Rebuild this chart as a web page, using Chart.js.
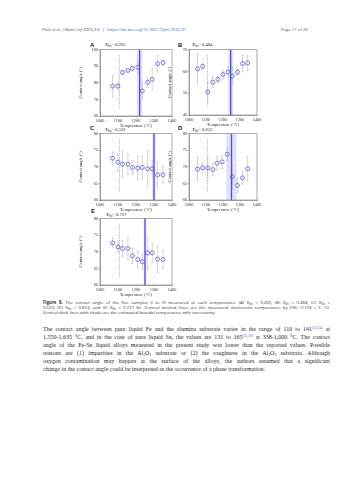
<!DOCTYPE html>
<html><head><meta charset="utf-8">
<script src="https://cdn.jsdelivr.net/npm/chart.js@4.4.1/dist/chart.umd.min.js"></script>
<style>
html,body{margin:0;padding:0;background:#fff;}
body{width:353px;height:480px;position:relative;overflow:hidden;}
.abs{position:absolute;white-space:nowrap;}
.hdr{font-family:'Open Sans','Liberation Sans',sans-serif;font-size:4.3px;line-height:6px;color:#555;}
.hdr a{color:#3a6fb5;text-decoration:none;}
.letter{font-family:'Liberation Sans',Arial,sans-serif;font-weight:bold;font-size:6px;line-height:7px;color:#222;}
.ptitle{font-family:'Liberation Serif',serif;font-size:4.6px;line-height:6px;color:#222;}
.ptitle sub{font-size:3.3px;vertical-align:-1px;line-height:0;}
canvas{position:absolute;}
.cap{font-family:'Open Sans','Liberation Sans',sans-serif;font-size:4.3px;line-height:5px;color:#333;width:287px;left:43px;}
.cap sub{font-size:3.2px;vertical-align:-0.8px;line-height:0;}
.bd{font-family:'Liberation Serif',serif;font-size:6px;line-height:7px;color:#2a2a2a;width:287px;left:43px;}
.bd sup{font-size:3.6px;vertical-align:2px;line-height:0;color:#3a6fb5;}
.bd sub{font-size:3.6px;vertical-align:-1px;line-height:0;}
.j{white-space:nowrap;text-align:justify;text-align-last:justify;}
</style>
</head>
<body>
<div class="abs hdr" style="left:42px;top:26px;"><i>Park et al. J Mater Inf</i> 2023;3:5&nbsp; | &nbsp;<a>https://dx.doi.org/10.20517/jmi.2022.37</a></div>
<div class="abs hdr" style="left:281px;top:26px;">Page 11 of 25</div>

<div class="abs letter" style="left:90px;top:42px;">A</div>
<div class="abs ptitle" style="left:105px;top:42px;"><i>X</i><sub>Sn</sub>= 0.265</div>
<div class="abs letter" style="left:178px;top:42px;">B</div>
<div class="abs ptitle" style="left:192px;top:42px;"><i>X</i><sub>Sn</sub>= 0.484</div>
<div class="abs letter" style="left:90px;top:125px;">C</div>
<div class="abs ptitle" style="left:105px;top:126.5px;"><i>X</i><sub>Sn</sub>= 0.523</div>
<div class="abs letter" style="left:178px;top:125px;">D</div>
<div class="abs ptitle" style="left:192px;top:126.5px;"><i>X</i><sub>Sn</sub>= 0.653</div>
<div class="abs letter" style="left:91px;top:208px;">E</div>
<div class="abs ptitle" style="left:106px;top:211.5px;"><i>X</i><sub>Sn</sub>= 0.727</div>

<canvas id="cA"></canvas>
<canvas id="cB"></canvas>
<canvas id="cC"></canvas>
<canvas id="cD"></canvas>
<canvas id="cE"></canvas>

<div class="abs cap j" style="top:300px;"><b>Figure 8.</b> The contact angle of the five samples (I to V) measured at each temperature: (A) X<sub>Sn</sub> = 0.265; (B) X<sub>Sn</sub> = 0.484; (C) X<sub>Sn</sub> =</div>
<div class="abs cap j" style="top:305px;">0.523; (D) X<sub>Sn</sub> = 0.653; and (E) X<sub>Sn</sub> = 0.727 Sn. Vertical dashed lines are the measured monotectic temperature by DSC (1109 ± 5 °C).</div>
<div class="abs cap" style="top:310px;">Vertical thick lines with shade are the estimated binodal temperature with uncertainty.</div>

<div class="abs bd j" style="top:325.5px;">The contact angle between pure liquid Fe and the alumina substrate varies in the range of 110 to 141<sup>[23,24]</sup> at</div>
<div class="abs bd j" style="top:333.5px;">1,550-1,635 °C, and in the case of pure liquid Sn, the values are 131 to 165<sup>[25,26]</sup> at 338-1,000 °C. The contact</div>
<div class="abs bd j" style="top:341.5px;">angle of the Fe-Sn liquid alloys measured in the present study was lower than the reported values. Possible</div>
<div class="abs bd j" style="top:349.5px;">reasons are (1) impurities in the Al<sub>2</sub>O<sub>3</sub> substrate or (2) the roughness in the Al<sub>2</sub>O<sub>3</sub> substrate. Although</div>
<div class="abs bd j" style="top:357.5px;">oxygen contamination may happen at the surface of the alloys, the authors assumed that a significant</div>
<div class="abs bd" style="top:365.5px;">change in the contact angle could be interpreted as the occurrence of a phase transformation.</div>

<script>
// ---------------- DATA ----------------
const MONOTECTIC = 1109;
const X_TICKS = [1000, 1100, 1200, 1300, 1400];

const tempA  = [1070, 1100, 1125, 1155, 1180, 1210, 1235, 1265, 1290, 1320, 1350];
const angleA = [78.0, 78.0, 86.3, 87.5, 88.7, 89.4, 75.1, 80.3, 82.1, 91.5, 92.2];
const errA   = [6.6, 2.0, 1.0, 1.0, 1.5, 3.8, 5.0, 3.0, 6.5, 5.0, 1.5];
const binodalA = 1220, binodalUncA = 15;
const yTicksA = [60, 70, 80, 90, 100];

const tempB  = [1050, 1080, 1110, 1140, 1170, 1200, 1230, 1255, 1285, 1315, 1345];
const angleB = [61.2, 62.4, 50.5, 55.1, 56.4, 58.6, 59.7, 57.9, 59.7, 63.6, 63.9];
const errB   = [7.0, 1.5, 4.5, 2.5, 1.5, 2.0, 2.4, 3.8, 1.5, 3.8, 3.4];
const binodalB = 1245, binodalUncB = 15;
const yTicksB = [40, 50, 60, 70];

const tempC  = [1070, 1100, 1125, 1155, 1180, 1210, 1235, 1265, 1290, 1320, 1350];
const angleC = [72.6, 71.4, 70.8, 70.8, 69.8, 69.6, 69.8, 69.4, 69.4, 67.6, 67.6];
const errC   = [1.9, 2.5, 4.0, 3.0, 2.0, 3.5, 3.5, 5.5, 2.5, 4.0, 2.5];
const binodalC = 1300, binodalUncC = 10;
const yTicksC = [60, 65, 70, 75, 80];

const tempD  = [1050, 1080, 1110, 1140, 1165, 1195, 1225, 1255, 1285, 1315, 1345];
const angleD = [69.3, 69.7, 69.7, 69.2, 71.1, 71.5, 73.8, 67.0, 64.4, 66.7, 69.4];
const errD   = [3.7, 1.5, 3.0, 1.7, 2.0, 2.0, 2.0, 3.7, 2.2, 2.0, 3.7];
const binodalD = 1250, binodalUncD = 30;
const yTicksD = [60, 65, 70, 75, 80];

const tempE  = [1070, 1100, 1125, 1155, 1180, 1210, 1235, 1265, 1290, 1320, 1350];
const angleE = [72.7, 71.5, 71.0, 71.0, 68.8, 67.7, 67.0, 69.7, 69.7, 67.8, 67.7];
const errE   = [1.5, 1.5, 2.5, 3.2, 2.3, 2.5, 2.3, 5.0, 2.8, 4.0, 2.8];
const binodalE = 1250, binodalUncE = 8;
const yTicksE = [60, 65, 70, 75, 80];

// ---------------- LAYOUT ----------------
const YAXW = 22, XAXH = 13, PT = 4, PR = 6;
const panels = [
  {id:'cA', box:[100, 49, 72, 67], temp:tempA, angle:angleA, err:errA, bin:binodalA, unc:binodalUncA, yt:yTicksA},
  {id:'cB', box:[189, 49, 68, 66], temp:tempB, angle:angleB, err:errB, bin:binodalB, unc:binodalUncB, yt:yTicksB},
  {id:'cC', box:[100, 133, 72, 67], temp:tempC, angle:angleC, err:errC, bin:binodalC, unc:binodalUncC, yt:yTicksC},
  {id:'cD', box:[189, 133, 68, 67], temp:tempD, angle:angleD, err:errD, bin:binodalD, unc:binodalUncD, yt:yTicksD},
  {id:'cE', box:[100, 218, 72, 67], temp:tempE, angle:angleE, err:errE, bin:binodalE, unc:binodalUncE, yt:yTicksE},
];

const decor = {
  id: 'decor',
  beforeDatasetsDraw(chart, args, o) {
    const {ctx, chartArea: a, scales: {x, y}} = chart;
    const h = a.bottom - a.top;
    ctx.save();
    const x1 = x.getPixelForValue(o.bin - o.unc), x2 = x.getPixelForValue(o.bin + o.unc);
    ctx.fillStyle = 'rgba(135,135,235,0.25)';
    ctx.fillRect(x1, a.top, x2 - x1, h);
    const xb = x.getPixelForValue(o.bin);
    ctx.strokeStyle = '#4f4fd2'; ctx.lineWidth = 1.3;
    ctx.beginPath(); ctx.moveTo(xb, a.top); ctx.lineTo(xb, a.bottom); ctx.stroke();
    const xm = x.getPixelForValue(o.mono);
    ctx.strokeStyle = '#8c8cc0'; ctx.lineWidth = 0.6; ctx.setLineDash([1, 1]);
    ctx.beginPath(); ctx.moveTo(xm, a.top + 0.08 * h); ctx.lineTo(xm, a.bottom - 0.12 * h); ctx.stroke();
    ctx.setLineDash([]);
    const data = chart.data.datasets[0].data;
    ctx.strokeStyle = '#a0a0a0'; ctx.lineWidth = 0.45;
    data.forEach((p, i) => {
      const e = o.err[i];
      const px = x.getPixelForValue(p.x);
      const yt = y.getPixelForValue(p.y + e), yb = y.getPixelForValue(p.y - e);
      ctx.beginPath();
      ctx.moveTo(px, yt); ctx.lineTo(px, yb);
      ctx.moveTo(px - 1, yt); ctx.lineTo(px + 1, yt);
      ctx.moveTo(px - 1, yb); ctx.lineTo(px + 1, yb);
      ctx.stroke();
    });
    ctx.restore();
  },
  afterDraw(chart) {
    const {ctx, chartArea: a} = chart;
    ctx.save();
    ctx.strokeStyle = '#777'; ctx.lineWidth = 0.6;
    ctx.strokeRect(a.left, a.top, a.right - a.left, a.bottom - a.top);
    ctx.restore();
  }
};

const tickFont = {family: "'Liberation Serif', serif", size: 4.3};
const titleFont = {family: "'Liberation Serif', serif", size: 4.6};
const plain = v => String(v);

panels.forEach(p => {
  const [bx, by, bw, bh] = p.box;
  const cv = document.getElementById(p.id);
  const W = bw + YAXW + PR, H = bh + PT + XAXH;
  cv.width = W; cv.height = H;
  cv.style.left = (bx - YAXW) + 'px'; cv.style.top = (by - PT) + 'px';
  cv.style.width = W + 'px'; cv.style.height = H + 'px';
  new Chart(cv, {
    type: 'scatter',
    data: {datasets: [{
      data: p.temp.map((t, i) => ({x: t, y: p.angle[i]})),
      pointStyle: 'circle', pointRadius: 2.0, borderWidth: 0.7,
      borderColor: '#4f4fcc', backgroundColor: 'rgba(0,0,0,0)'
    }]},
    options: {
      responsive: false, animation: false, devicePixelRatio: 1,
      layout: {padding: {top: PT, right: PR, left: 0, bottom: 0}},
      plugins: {legend: {display: false}, tooltip: {enabled: false},
        decor: {bin: p.bin, unc: p.unc, mono: MONOTECTIC, err: p.err}},
      scales: {
        x: {type: 'linear', min: X_TICKS[0], max: X_TICKS[X_TICKS.length - 1],
          afterBuildTicks: s => { s.ticks = X_TICKS.map(v => ({value: v})); },
          afterFit: s => { s.height = XAXH; },
          ticks: {font: tickFont, color: '#333', padding: 0.5, maxRotation: 0, autoSkip: false, callback: plain},
          grid: {drawOnChartArea: false, tickLength: 1.5, color: '#777', lineWidth: 0.5},
          border: {color: '#777', width: 0.6},
          title: {display: true, text: 'Temperature (°C)', font: titleFont, color: '#333', padding: 0}},
        y: {min: p.yt[0], max: p.yt[p.yt.length - 1],
          afterBuildTicks: s => { s.ticks = p.yt.map(v => ({value: v})); },
          afterFit: s => { s.width = YAXW; },
          ticks: {font: tickFont, color: '#333', padding: 0.5, autoSkip: false, callback: plain},
          grid: {drawOnChartArea: false, tickLength: 1.5, color: '#777', lineWidth: 0.5},
          border: {color: '#777', width: 0.6},
          title: {display: true, text: 'Contact angle (°)', font: titleFont, color: '#333', padding: 0}}
      }
    },
    plugins: [decor]
  });
});
</script>
</body></html>
